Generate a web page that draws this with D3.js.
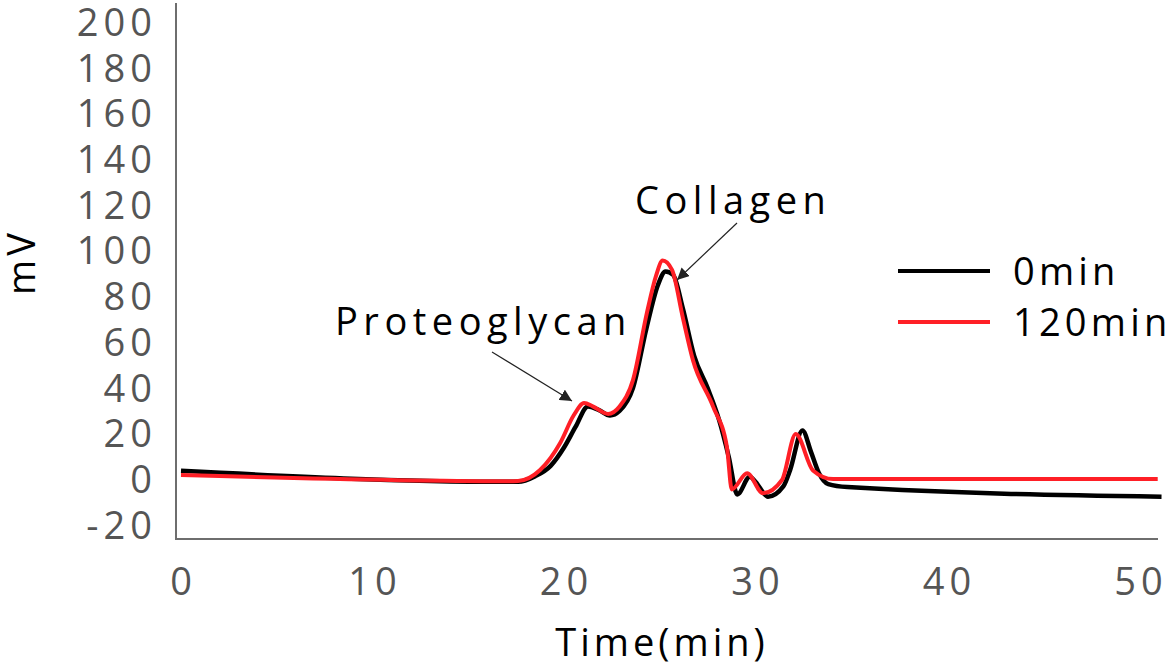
<!DOCTYPE html>
<html><head><meta charset="utf-8">
<script src="https://cdn.jsdelivr.net/npm/d3@7"></script>
<style>
html,body{margin:0;padding:0;background:#fff;}
svg{display:block;}
text{font-family:"Open Sans","Noto Sans",sans-serif;}
</style></head>
<body>
<svg id="c" width="1170" height="671"></svg>
<script>
// ---- data ----
const seriesNames = ["0min", "120min"];
const seriesColors = ["#000000", "#ff1f26"];
const time0 = [0, 17.0, 17.6, 18.5, 19.3, 20.0, 20.6, 21.25, 21.8, 22.4, 22.9, 23.6, 24.3, 24.9, 25.3, 25.7, 26.2, 26.8, 27.5, 28.1, 28.6, 29.05, 29.7, 30.0, 30.65, 31.45, 31.8, 32.45, 32.9, 33.3, 33.8, 34.8, 51.2];
const mv0   = [3.8, -1.0, -1.0, 1.5, 6, 14, 23, 32, 30.5, 28, 30, 40, 66, 85, 91, 89.5, 75, 54, 40, 26, 10, -6.5, 1.2, -1, -7.5, -3, 4, 21.5, 12, 3, -2, -3.3, -7.5];
const time120 = [0, 17.0, 17.6, 18.75, 19.8, 20.5, 21.05, 21.5, 22.3, 22.9, 23.6, 24.33, 24.8, 25.15, 25.64, 26.2, 26.74, 27.78, 28.51, 28.76, 29.56, 30.39, 31.38, 32.1, 33.0, 34.05, 51.0];
const mv120   = [2.0, -0.7, -0.6, 4.2, 16, 28, 33.5, 32, 28.7, 32, 43.5, 73, 89, 95.8, 91.7, 71, 52, 32, 14, -4.3, 2.8, -6, -0.2, 19.9, 4, 0.2, 0.2];
const yTicks = [-20, 0, 20, 40, 60, 80, 100, 120, 140, 160, 180, 200];
const xTicks = [0, 10, 20, 30, 40, 50];
const annotations = ["Proteoglycan", "Collagen"];

const svg = d3.select("#c");
const x = d3.scaleLinear().domain([0, 51]).range([181, 1157.7]);
const y = d3.scaleLinear().domain([-26, 208]).range([539, 4]);

// axes lines
svg.append("line").attr("x1", 176).attr("x2", 176).attr("y1", 3).attr("y2", 540)
  .attr("stroke", "#6e6e6e").attr("stroke-width", 2);
svg.append("line").attr("x1", 175).attr("x2", 1158).attr("y1", 539).attr("y2", 539)
  .attr("stroke", "#6e6e6e").attr("stroke-width", 2);

// y tick labels
svg.selectAll(".yt").data(yTicks).enter().append("text")
  .attr("x", 157).attr("y", d => y(d) + 13.5)
  .attr("text-anchor", "end").attr("font-size", 38).attr("letter-spacing", 5)
  .attr("fill", "#555555").text(d => d < 0 ? "-" + Math.abs(d) : d);

// x tick labels
svg.selectAll(".xt").data(xTicks).enter().append("text")
  .attr("x", d => x(d) + 2.5).attr("y", 595)
  .attr("text-anchor", "middle").attr("font-size", 38).attr("letter-spacing", 5)
  .attr("fill", "#555555").text(d => d);

// axis titles
svg.append("text").attr("transform", "translate(35,262) rotate(-90)")
  .attr("text-anchor", "middle").attr("font-size", 38).attr("letter-spacing", 4)
  .attr("fill", "#000").text("mV");
svg.append("text").attr("x", 662).attr("y", 656)
  .attr("text-anchor", "middle").attr("font-size", 38).attr("letter-spacing", 4)
  .attr("fill", "#000").text("Time(min)");

// lines
const line = d3.line().x(d => x(d[0])).y(d => y(d[1])).curve(d3.curveMonotoneX);
const data0 = time0.map((t, i) => [t, mv0[i]]);
const data120 = time120.map((t, i) => [t, mv120[i]]);
svg.append("path").datum(data0).attr("d", line).attr("fill", "none")
  .attr("stroke", seriesColors[0]).attr("stroke-width", 4.5).attr("stroke-linejoin", "round");
svg.append("path").datum(data120).attr("d", line).attr("fill", "none")
  .attr("stroke", seriesColors[1]).attr("stroke-width", 4).attr("stroke-linejoin", "round");

// legend
const legY = [271, 322];
seriesNames.forEach((n, i) => {
  svg.append("line").attr("x1", 898).attr("x2", 990).attr("y1", legY[i]).attr("y2", legY[i])
    .attr("stroke", seriesColors[i]).attr("stroke-width", 4);
  svg.append("text").attr("x", 1013).attr("y", legY[i] + 14).attr("font-size", 38)
    .attr("letter-spacing", 4.2).attr("fill", "#000").text(n);
});

// annotations
const defs = svg.append("defs");
defs.append("marker").attr("id", "ah").attr("viewBox", "0 0 10 10").attr("refX", 10).attr("refY", 5)
  .attr("markerWidth", 12).attr("markerHeight", 12).attr("markerUnits", "userSpaceOnUse")
  .attr("orient", "auto").append("path").attr("d", "M0,0 L10,5 L0,10 z").attr("fill", "#222");
svg.append("text").attr("x", 335).attr("y", 335).attr("font-size", 38).attr("letter-spacing", 5.5)
  .attr("fill", "#000").text(annotations[0]);
svg.append("text").attr("x", 635).attr("y", 214).attr("font-size", 38).attr("letter-spacing", 5.5)
  .attr("fill", "#000").text(annotations[1]);
svg.append("line").attr("x1", 492).attr("y1", 352).attr("x2", 572).attr("y2", 401)
  .attr("stroke", "#222").attr("stroke-width", 1.2).attr("marker-end", "url(#ah)");
svg.append("line").attr("x1", 737).attr("y1", 223).attr("x2", 677).attr("y2", 280)
  .attr("stroke", "#222").attr("stroke-width", 1.2).attr("marker-end", "url(#ah)");
</script>
</body></html>
